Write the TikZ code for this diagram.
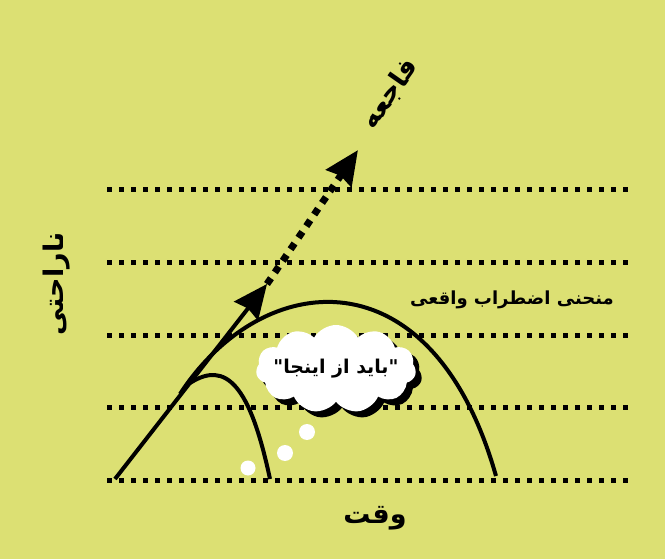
\documentclass[tikz,border=0pt]{standalone}
\usepackage{fontspec}
\usepackage{tikz}
\usetikzlibrary{arrows.meta,shapes.symbols,shadows}
\TeXXeTstate=1
\newfontfamily\fafont[Script=Arabic]{DejaVu Sans}
\definecolor{bgyellow}{RGB}{220,224,115}

\begin{document}
\begin{tikzpicture}[
    x=1pt, y=-1pt,
    gridline/.style={line width=5pt, dash pattern=on 5pt off 7pt},
    bigtip/.style={-{Stealth[length=34pt, width=30pt, inset=3pt]}},
    curveline/.style={line width=4pt},
    label/.style={font=\fafont\bfseries\fontsize{18}{21}\selectfont, inner sep=0pt},
    axislabel/.style={font=\fafont\bfseries\fontsize{27}{30}\selectfont, inner sep=0pt},
    bubble/.style={circle, fill=white, inner sep=0pt},
    thought/.style={cloud, cloud puffs=11, cloud puff arc=120, aspect=1.9, fill=white,
        minimum width=160pt, minimum height=88pt, inner sep=0pt,
        drop shadow={shadow xshift=6pt, shadow yshift=-6pt, opacity=1, fill=black}}
]
    % background
    \fill[bgyellow] (0,0) rectangle (665,559);
    \useasboundingbox (0,0) rectangle (665,559);

    % dotted levels
    \foreach \y in {190,263,335,407,480}
        \draw[gridline] (107,\y) -- (630,\y);

    % curves
    \draw[curveline] (180,394) .. controls (262,268) and (432,250) .. (496,476);
    \draw[curveline] (190,383) .. controls (226,360) and (250,385) .. (270,479);

    % arrows
    \coordinate (start) at (115,479);
    \coordinate (mid) at (267,284);
    \coordinate (tip) at (358,150);
    \draw[line width=4pt, bigtip] (start) -- (mid);
    \draw[line width=7pt, dash pattern=on 7pt off 7pt, bigtip] (mid) -- (tip);

    % thought
    \node[thought] (cloud) at (336,369) {};
    \node[label, font=\fafont\bfseries\fontsize{19}{23}\selectfont] (quote) at (cloud) {\beginR"بايد از اينجا"\endR};
    \node[bubble, minimum size=15pt] (b1) at (248,468) {};
    \node[bubble, minimum size=16pt] (b2) at (285,453) {};
    \node[bubble, minimum size=16pt] (b3) at (307,432) {};

    % labels
    \node[label] (real) at (512,300) {\beginR منحنی اضطراب واقعی\endR};
    \node[axislabel, rotate=55] (disaster) at (390,94) {\beginR فاجعه\endR};
    \node[axislabel, rotate=90] (upset) at (57,284) {\beginR ناراحتی\endR};
    \node[axislabel] (time) at (375,518) {\beginR وقت\endR};
\end{tikzpicture}
\end{document}
